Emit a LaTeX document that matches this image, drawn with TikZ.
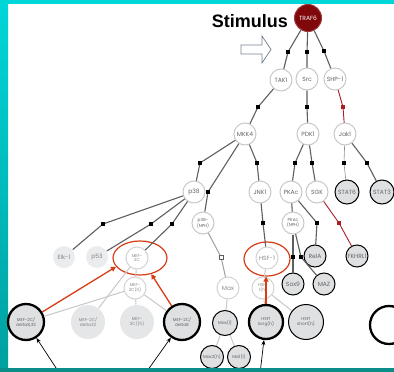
\documentclass[tikz,border=0pt]{standalone}
\usepackage{fontspec}
\setmainfont{Liberation Sans}
\newfontfamily\lblfont{Poppins}
\usetikzlibrary{arrows.meta,shapes.geometric}

\definecolor{tealtop}{RGB}{0,214,216}
\definecolor{tealbot}{RGB}{0,160,160}
\definecolor{tealbar}{RGB}{10,140,136}
\definecolor{traf}{RGB}{128,8,10}
\definecolor{edgegray}{RGB}{95,95,95}
\definecolor{palegray}{RGB}{200,200,200}
\definecolor{fillgray}{RGB}{222,224,226}
\definecolor{txtgray}{RGB}{100,100,100}
\definecolor{hlred}{RGB}{215,60,20}
\definecolor{pathred}{RGB}{170,30,40}
\definecolor{arrowblue}{RGB}{120,132,150}

\tikzset{
  mol/.style={circle, draw=palegray, line width=1pt, fill=white, inner sep=0pt,
    minimum size=22pt, text=txtgray, font=\lblfont\fontsize{6}{6.5}\selectfont, align=center},
  faint/.style={mol, draw=palegray!80, text=txtgray!75},
  ghost/.style={mol, draw=none, fill=fillgray!80, text=txtgray!80},
  hit/.style={mol, draw=black, fill=fillgray, line width=1pt, text=txtgray},
  bighit/.style={hit, line width=2.3pt, minimum size=36pt},
  tiny/.style={font=\lblfont\fontsize{4.3}{4.8}\selectfont},
  edge/.style={draw=edgegray, line width=1.1pt},
  faintedge/.style={draw=palegray, line width=1pt},
  redge/.style={draw=pathred, line width=0.9pt},
  sq/.style={rectangle, fill=black, inner sep=0pt, minimum size=3.8pt},
  rsq/.style={sq, fill=pathred},
  osq/.style={rectangle, draw=edgegray, fill=white, line width=0.6pt, inner sep=0pt, minimum size=3.8pt},
  ring/.style={ellipse, draw=hlred, line width=1.2pt},
  hlarrow/.style={draw=hlred, line width=1.3pt, -{Triangle[length=5pt,width=5pt]}},
  ptr/.style={draw=black, line width=0.7pt, -{Stealth[length=5pt,width=4pt]}}
}

\begin{document}
\begin{tikzpicture}[x=1pt,y=-1pt]
\useasboundingbox (0,0) rectangle (394,372);
\fill[white] (0,0) rectangle (394,372);

% pointer arrows start in the bottom margin
\coordinate (pa) at (60,374);
\coordinate (pb) at (145,374);
\coordinate (pc) at (260,374);

% frame
\shade[top color=tealtop, bottom color=tealbot] (0,0) rectangle (8,372);
\fill[tealtop] (0,0) rectangle (394,4);

% heading
\node[font=\bfseries\fontsize{18}{18}\selectfont, anchor=east, inner sep=0pt] (stim) at (288,21) {Stimulus};
\draw[arrowblue, line width=0.8pt, fill=white]
  (241,45) -- (262,45) -- (262,36) -- (271,49.5) -- (262,63) -- (262,54) -- (241,54) -- cycle;

% nodes
\node[mol, fill=traf, draw=traf!80!white, text=white, minimum size=27pt] (traf6) at (308,18) {TRAF6};
\node[mol] (tak1) at (281,80) {TAK1};
\node[mol] (src) at (307,79) {Src};
\node[mol] (shp1) at (335,79) {SHP-1};
\node[mol] (mkk4) at (245,134) {MKK4};
\node[mol] (pdk1) at (308,134) {PDK1};
\node[mol] (jak1) at (345,134) {Jak1};
\node[mol] (p38) at (194,192) {p38};
\node[mol, tiny] (p38n) at (203,223) {p38-\\(NPH)};
\node[mol] (jnk1) at (260,192) {JNK1};
\node[mol] (pkac) at (291,192) {PKAc};
\node[mol] (sgk) at (317,192) {SGK};
\node[hit, minimum size=24pt] (stat6) at (347,192) {STAT6};
\node[hit, minimum size=24pt] (stat3) at (382,192) {STAT3};
\node[mol, tiny] (pkacn) at (293,223) {PKAc\\(NPH)};
\node[ghost, fill=fillgray!60] (elk1) at (64,257) {Elk-1};
\node[ghost, fill=fillgray!60] (p53) at (97,257) {p53};
\node[faint, tiny] (mef2c) at (137,258) {MEF-\\2C};
\node[faint, tiny] (mef2ch) at (135,288) {MEF-\\2C(h)};
\node[faint] (hsf1) at (267,258) {HSF-1};
\node[faint, tiny] (hsf1h) at (263,288) {HSF-\\1(h)};
\node[faint] (max) at (228,288) {Max};
\node[hit] (rela) at (315,256) {RelA};
\node[hit] (fkhr) at (357,256) {FKHRL1};
\node[hit] (sox9) at (293,284) {Sox9};
\node[hit] (maz) at (324,284) {MAZ};
\node[hit, tiny, minimum size=25pt] (maxl) at (225,323) {Max(l)};
\node[hit, tiny, minimum size=23pt] (max2) at (212,357) {Max2(h)};
\node[hit, tiny, minimum size=23pt] (max1) at (239,357) {Mxi1(l)};
\node[bighit, tiny] (d832) at (26,322) {MEF-2C/\\delta8,32};
\node[ghost, tiny, minimum size=34pt] (d32) at (88,322) {MEF-2C/\\delta32};
\node[ghost, tiny, minimum size=34pt] (mh) at (137,322) {MEF-\\2C/(h)};
\node[bighit, tiny] (d8) at (182,322) {MEF-2C/\\delta8};
\node[bighit, tiny, minimum size=34pt] (hlong) at (266,322) {HSF1\\long(h)};
\node[hit, tiny, minimum size=35pt] (hshort) at (306,322) {HSF1\\short(h)};
\node[bighit, fill=white, minimum size=38pt] (open) at (389,325) {};

% highlight rings
\node[ring, minimum width=54pt, minimum height=34pt] (ringm) at (140,258) {};
\node[ring, minimum width=46pt, minimum height=34pt] (ringh) at (267,259) {};

% square-marked connector points
\coordinate (s1) at (288,52);
\coordinate (s2) at (307,52);
\coordinate (s3) at (324,51);
\coordinate (s4) at (258,107);
\coordinate (s5) at (307,107);
\coordinate (s6) at (343,107);
\coordinate (s7) at (200,163);
\coordinate (s8) at (208,192);
\coordinate (s9) at (257,163);
\coordinate (s10) at (295,163);
\coordinate (s11) at (312,163);
\coordinate (s12) at (344,163);
\coordinate (s13) at (367,163);
\coordinate (s14) at (103,224);
\coordinate (s15) at (151,224);
\coordinate (s16) at (172,224);
\coordinate (s17) at (263,223);
\coordinate (s18) at (317,223);
\coordinate (s19) at (339,223);
\coordinate (s20) at (293,257);
\coordinate (s21) at (301,257);
\coordinate (s22) at (221,257);

% faint branches
\draw[faintedge] (mef2c) -- (mef2ch);
\draw[faintedge] (mef2c) -- (d32);
\draw[faintedge] (mef2ch) -- (d832);
\draw[faintedge] (mef2ch) -- (mh);
\draw[faintedge] (mef2ch) -- (d8);
\draw[faintedge] (hsf1) -- (hsf1h);
\draw[faintedge] (hsf1h) -- (hlong);
\draw[faintedge] (hsf1h) -- (hshort);
\draw[faintedge] (max) -- (maxl);
\draw[faintedge] (maxl) -- (max2);
\draw[faintedge] (maxl) -- (max1);
\draw[faintedge, draw=edgegray!60] (p38n) -- (s22) -- (max);

% main branches
\draw[edge] (traf6) -- (s1) -- (tak1);
\draw[edge] (traf6) -- (s2) -- (src);
\draw[edge] (traf6) -- (s3) -- (shp1);
\draw[edge] (tak1) -- (s4) -- (mkk4);
\draw[edge] (src) -- (s5) -- (pdk1);
\draw[redge] (shp1) -- (s6) -- (jak1);
\draw[edge] (mkk4) -- (s7) -- (p38);
\draw[edge] (mkk4) -- (s8) -- (p38n);
\draw[edge] (mkk4) -- (s9) -- (jnk1);
\draw[edge] (pdk1) -- (s10) -- (pkac);
\draw[edge] (pdk1) -- (s11) -- (sgk);
\draw[edge, line width=0.6pt, draw=edgegray!70] (jak1) -- (s12) -- (stat6);
\draw[edge] (jak1) -- (s13) -- (stat3);
\draw[edge] (p38) -- (s14) -- (elk1);
\draw[edge] (p38) -- (s15) -- (p53);
\draw[edge] (p38) -- (s16) -- (mef2c);
\draw[edge] (jnk1) -- (s17) -- (hsf1);
\draw[edge] (pkac) -- (pkacn);
\draw[edge] (pkac) -- (s18) -- (rela);
\draw[redge] (sgk) -- (s19) -- (fkhr);
\draw[edge] (pkacn) -- (s20) -- (sox9);
\draw[edge] (pkacn) -- (s21) -- (maz);

% squares on connectors
\foreach \s in {s1,s2,s3,s4,s5,s7,s8,s9,s10,s11,s12,s13,s14,s15,s16,s17,s18,s20,s21}
  \node[sq] at (\s) {};
\node[rsq] at (s6) {};
\node[rsq] at (s19) {};
\node[osq] at (s22) {};

% red highlight arrows
\draw[hlarrow] (d832) -- (ringm.200);
\draw[hlarrow] (d8) -- (ringm.305);
\draw[hlarrow] (hlong) -- (ringh.south -| hlong);

% pointer arrows
\draw[ptr] (pa) -- (d832);
\draw[ptr] (pb) -- (d8);
\draw[ptr] (pc) -- (hlong);

\fill[tealbar] (0,368) rectangle (394,372);
\end{tikzpicture}
\end{document}
